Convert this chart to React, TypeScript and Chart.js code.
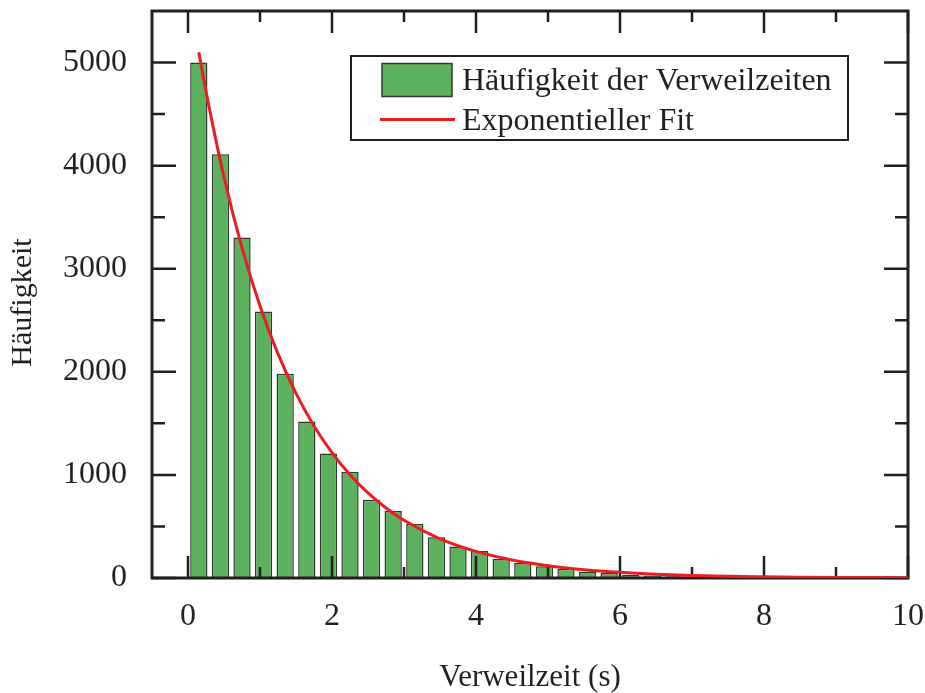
import { useEffect, useRef } from "react";
import { Chart, registerables } from "chart.js";

Chart.register(...registerables);

// Histogram bins (centre of each 0.3 s bin) and counts
const binCenters = [
  0.15, 0.45, 0.75, 1.05, 1.35, 1.65, 1.95, 2.25, 2.55, 2.85, 3.15, 3.45,
  3.75, 4.05, 4.35, 4.65, 4.95, 5.25, 5.55, 5.85, 6.15, 6.45, 6.75, 7.05,
  7.35, 7.65, 7.95, 8.25, 8.55, 8.85, 9.15, 9.45, 9.75,
];
const counts = [
  5000, 4110, 3304, 2586, 1981, 1518, 1207, 1029, 760, 650, 524, 395,
  306, 262, 184, 146, 115, 90, 58, 48, 32, 24, 18, 14,
  11, 9, 7, 5, 4, 3, 2, 2, 1,
];

// Exponential fit curve, sampled points
const fitX = [
  0.15, 0.25, 0.5, 0.75, 1.0, 1.25, 1.5, 1.75, 2.0, 2.25, 2.5, 2.75, 3.0,
  3.5, 4.0, 4.5, 5.0, 5.5, 6.0, 6.5, 7.0, 7.5, 8.0, 8.5, 9.0, 9.5, 10.0,
];
const fitY = [
  5100, 4720, 3888, 3203, 2639, 2174, 1791, 1475, 1216, 1001, 825, 679, 560,
  380, 258, 175, 119, 81, 55, 37, 25, 17, 12, 8, 5, 4, 2,
];

const xMajorTicks = [0, 2, 4, 6, 8, 10];
const xMinorTicks = [1, 3, 5, 7, 9];
const yMajorTicks = [0, 1000, 2000, 3000, 4000, 5000];
const yMinorTicks = [500, 1500, 2500, 3500, 4500];

const barLabel = "Häufigkeit der Verweilzeiten";
const fitLabel = "Exponentieller Fit";
const xTitle = "Verweilzeit (s)";
const yTitle = "Häufigkeit";

const FONT = '"Liberation Serif", "Times New Roman", serif';
const INK = "#231f20";
const BAR_FILL = "#5cb15c";
const BAR_EDGE = "#2f3a2f";
const FIT_RED = "#ed1c24";

// Box around the plot with inward-pointing major/minor ticks on all sides
const framePlugin = {
  id: "frame",
  afterDatasetDraw(chart: any, args: any) {
    if (args.meta.type !== "bar") return;
    const { ctx, chartArea: a, scales } = chart;
    const xs = scales.x;
    const ys = scales.y;
    ctx.save();
    ctx.strokeStyle = INK;
    ctx.lineWidth = 2.5;
    ctx.beginPath();
    const xTick = (v: number, len: number) => {
      const px = xs.getPixelForValue(v);
      ctx.moveTo(px, a.bottom);
      ctx.lineTo(px, a.bottom - len);
      ctx.moveTo(px, a.top);
      ctx.lineTo(px, a.top + len);
    };
    const yTick = (v: number, len: number) => {
      const py = ys.getPixelForValue(v);
      ctx.moveTo(a.left, py);
      ctx.lineTo(a.left + len, py);
      ctx.moveTo(a.right, py);
      ctx.lineTo(a.right - len, py);
    };
    xMajorTicks.forEach((v) => xTick(v, 22));
    xMinorTicks.forEach((v) => xTick(v, 11));
    yMajorTicks.forEach((v) => yTick(v, 24));
    yMinorTicks.forEach((v) => yTick(v, 13));
    ctx.stroke();
    ctx.lineWidth = 3;
    ctx.strokeRect(a.left, a.top, a.right - a.left, a.bottom - a.top);
    ctx.restore();
  },
};

// Legend box inside the plot (upper right) and the rotated y-axis title
const legendPlugin = {
  id: "boxLegend",
  afterDraw(chart: any) {
    const { ctx, chartArea: a } = chart;
    const left = a.left + 199;
    const top = a.top + 45;
    ctx.save();
    ctx.fillStyle = "#ffffff";
    ctx.fillRect(left, top, 497, 84);
    ctx.strokeStyle = INK;
    ctx.lineWidth = 2;
    ctx.strokeRect(left, top, 497, 84);

    ctx.fillStyle = BAR_FILL;
    ctx.fillRect(left + 31, top + 7.5, 70, 33);
    ctx.strokeStyle = BAR_EDGE;
    ctx.lineWidth = 1.5;
    ctx.strokeRect(left + 31, top + 7.5, 70, 33);

    ctx.strokeStyle = FIT_RED;
    ctx.lineWidth = 3;
    ctx.beginPath();
    ctx.moveTo(left + 29, top + 63.5);
    ctx.lineTo(left + 104, top + 63.5);
    ctx.stroke();

    ctx.fillStyle = INK;
    ctx.font = `32px ${FONT}`;
    ctx.textAlign = "left";
    ctx.textBaseline = "alphabetic";
    ctx.fillText(barLabel, left + 111, top + 34);
    ctx.fillText(fitLabel, left + 111, top + 74);

    // y-axis title, slightly below the plot's vertical centre
    ctx.translate(23, (a.top + a.bottom) / 2 + 8);
    ctx.rotate(-Math.PI / 2);
    ctx.font = `30px ${FONT}`;
    ctx.textAlign = "center";
    ctx.textBaseline = "middle";
    ctx.fillText(yTitle, 0, 0);
    ctx.restore();
  },
};

export default function App() {
  const ref = useRef<HTMLCanvasElement>(null);

  useEffect(() => {
    const canvas = ref.current;
    if (!canvas) return;
    const chart = new Chart(canvas, {
      type: "bar",
      data: {
        datasets: [
          {
            type: "bar",
            label: barLabel,
            data: binCenters.map((x, i) => ({ x, y: counts[i] })),
            backgroundColor: BAR_FILL,
            borderColor: BAR_EDGE,
            borderWidth: 1.5,
            categoryPercentage: 1,
            barPercentage: 0.8,
            order: 1,
          },
          {
            type: "line",
            label: fitLabel,
            data: fitX.map((x, i) => ({ x, y: fitY[i] })),
            borderColor: FIT_RED,
            borderWidth: 3,
            pointRadius: 0,
            fill: false,
            cubicInterpolationMode: "monotone",
            order: 0,
          },
        ],
      } as any,
      options: {
        responsive: false,
        devicePixelRatio: 1,
        animation: false,
        layout: { padding: { left: 0, top: 11, right: 17, bottom: 0 } },
        plugins: {
          legend: { display: false },
          tooltip: { enabled: false },
        },
        scales: {
          x: {
            type: "linear",
            min: -0.5,
            max: 10,
            offset: false,
            grid: { display: false, drawTicks: false },
            border: { display: false },
            afterBuildTicks: (scale: any) => {
              scale.ticks = xMajorTicks.map((value) => ({ value }));
            },
            afterFit: (scale: any) => {
              scale.height = 115;
              scale.paddingLeft = 0;
              scale.paddingRight = 0;
            },
            ticks: {
              autoSkip: false,
              maxRotation: 0,
              padding: 19,
              color: INK,
              font: { family: FONT, size: 32 },
              callback: (v: any) => String(v),
            },
            title: {
              display: true,
              text: xTitle,
              color: INK,
              font: { family: FONT, size: 31, lineHeight: 1 },
              padding: { top: 0, bottom: 0 },
            },
          },
          y: {
            type: "linear",
            min: 0,
            max: 5500,
            grid: { display: false, drawTicks: false },
            border: { display: false },
            afterBuildTicks: (scale: any) => {
              scale.ticks = yMajorTicks.map((value) => ({ value }));
            },
            afterFit: (scale: any) => {
              scale.width = 152;
              scale.paddingTop = 0;
              scale.paddingBottom = 0;
            },
            ticks: {
              padding: 25,
              color: INK,
              font: { family: FONT, size: 32 },
              callback: (v: any) => String(v),
            },
            title: { display: false },
          },
        },
      } as any,
      plugins: [framePlugin, legendPlugin],
    });
    return () => chart.destroy();
  }, []);

  return (
    <div style={{ position: "absolute", left: 0, top: 0, width: 925, height: 693, background: "#ffffff" }}>
      <canvas ref={ref} width={925} height={693} />
    </div>
  );
}
